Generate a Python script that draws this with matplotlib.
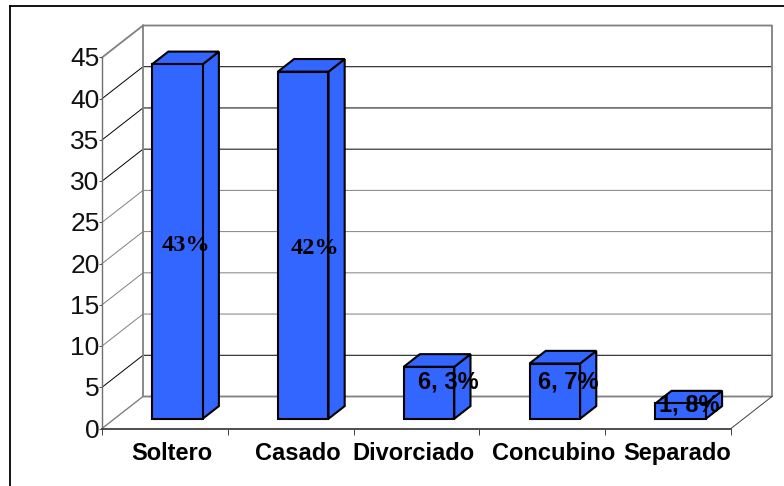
import matplotlib
matplotlib.use("Agg")
import matplotlib.pyplot as plt
from matplotlib.patches import Polygon
from matplotlib.transforms import ScaledTranslation

categories = ["Soltero", "Casado", "Divorciado", "Concubino", "Separado"]
values = [43, 42.1, 6.3, 6.7, 1.85]
bar_labels = ["43%", "42%", "6, 3%", "6, 7%", "1, 8%"]
y_ticks = [0, 5, 10, 15, 20, 25, 30, 35, 40, 45]

W, H = 784, 486
# depth of the fake 3d box, in data units
DX = 41 / 125.8
DY = 32 / 8.244
BAR_W = 0.402
D0, D1 = 0.305, 0.70
BLUE = "#3366FF"

# small nudges for the text
cat_shift = [0.055, 0.055, -0.025, 0.09, 0.07]
lab_pos = [(0.67, 22.15), (1.69, 21.85), (2.75, 5.7), (3.71, 5.7), (4.67, 2.8)]
lab_font = ["Liberation Serif", "Liberation Serif", "Liberation Sans", "Liberation Sans", "Liberation Sans"]
lab_size = [17.5, 17.5, 17, 17, 17]

fig = plt.figure(figsize=(W / 100, H / 100), dpi=100)
ax = fig.add_axes([102 / W, 1 - 428.5 / H, 629 / W, 371 / H])
ax.set_xlim(0, 5)
ax.set_ylim(0, 45)
ax.patch.set_visible(False)


def deep(x, y, d):
    return (x + d * DX, y + d * DY)


# frame around the whole chart, no bottom or right side
fig.add_artist(plt.Line2D([10 / W, 10 / W], [0, 1 - 6 / H], color="black", lw=1.3))
fig.add_artist(plt.Line2D([10 / W, 1], [1 - 6 / H, 1 - 6 / H], color="black", lw=1.3))

# walls
gray = "#808080"
for y in y_ticks[1:-1]:
    c = "#808080" if y in (10, 15, 20, 25) else "black"
    ax.plot(*zip(deep(0, y, 0), deep(0, y, 1), deep(5, y, 1)), color=c, lw=0.7, clip_on=False, zorder=1)
ax.plot(*zip(deep(0, 45, 0), deep(0, 45, 1), deep(5, 45, 1), deep(5, 0, 1), deep(0, 0, 1), deep(0, 45, 1)),
        color=gray, lw=1.3, clip_on=False, zorder=1.5)
ax.plot(*zip(deep(0, 0, 0), deep(0, 0, 1)), color=gray, lw=1.0, clip_on=False, zorder=1.5)
ax.plot(*zip(deep(5, 0, 0), deep(5, 0, 1)), color="#404040", lw=0.7, clip_on=False, zorder=1.5)

# bars
for i, v in enumerate(values):
    x0 = i + 0.5 - BAR_W / 2
    x1 = x0 + BAR_W
    front = [deep(x0, 0, D0), deep(x1, 0, D0), deep(x1, v, D0), deep(x0, v, D0)]
    side = [deep(x1, 0, D0), deep(x1, 0, D1), deep(x1, v, D1), deep(x1, v, D0)]
    top = [deep(x0, v, D0), deep(x1, v, D0), deep(x1, v, D1), deep(x0, v, D1)]
    for pts in (side, top, front):
        ax.add_patch(Polygon(pts, closed=True, fc=BLUE, ec="black", lw=1.5, joinstyle="miter",
                             clip_on=False, zorder=3))

for (x, y), s, f, z in zip(lab_pos, bar_labels, lab_font, lab_size):
    ax.text(x, y, s, family=f, fontsize=z, fontweight="bold", ha="center", va="center", color="black", zorder=5,
            clip_on=False)

ax.spines["top"].set_visible(False)
ax.spines["right"].set_visible(False)
ax.spines["left"].set_color("#707070")
ax.spines["left"].set_linewidth(1.0)
ax.spines["bottom"].set_color("#404040")
ax.spines["bottom"].set_linewidth(1.3)
ax.set_xticks(range(6))
ax.set_xticklabels([])
ax.tick_params(axis="x", length=4, width=0.7, color="#404040", direction="out")
ax.set_yticks(y_ticks)
ax.set_yticklabels([str(t) for t in y_ticks], family="Liberation Sans", fontsize=19, color="#111111", va="center")
ax.tick_params(axis="y", length=2.5, width=0.7, color="#505050", pad=0)
# labels sit a little under their ticks
nudge = ScaledTranslation(1 / 100, -2 / 100, fig.dpi_scale_trans)
for lab in ax.get_yticklabels():
    lab.set_transform(lab.get_transform() + nudge)

for i, c in enumerate(categories):
    ax.text(i + 0.5 + cat_shift[i], -3.0, c, family="Liberation Sans", fontsize=17, fontweight="bold",
            ha="center", va="center", color="black", clip_on=False)

fig.savefig("out.png", dpi=100)
